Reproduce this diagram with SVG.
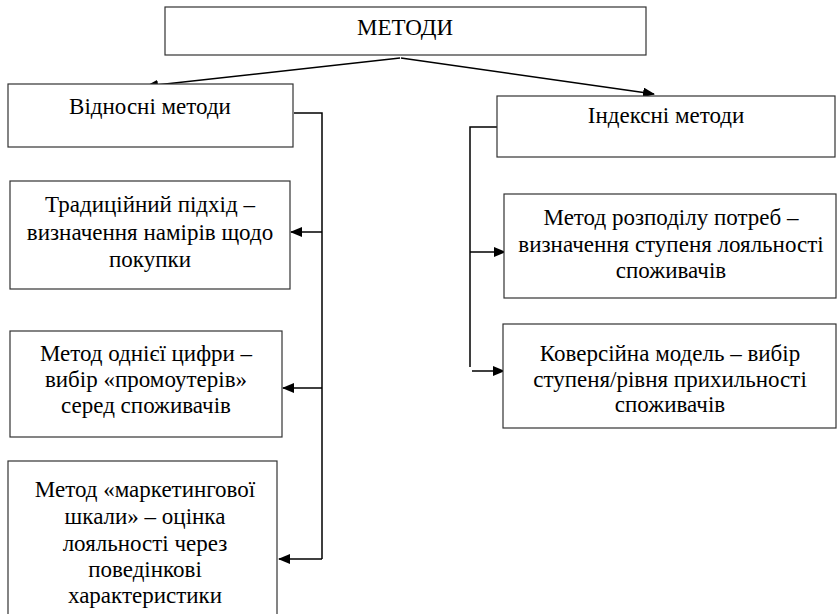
<svg xmlns="http://www.w3.org/2000/svg" width="837" height="614" viewBox="0 0 837 614">
<defs>
<style>
.box{fill:#fff;stroke:#333;stroke-width:1.2}
.t{font-family:'Liberation Serif',serif;font-size:23px;text-anchor:middle;fill:#000}
</style>
<marker id="ah" markerWidth="12" markerHeight="10" refX="11" refY="5" orient="auto" markerUnits="userSpaceOnUse">
<path d="M0,0 L12,5 L0,10 Z" fill="#000"/>
</marker>
</defs>
<rect width="837" height="614" fill="#fff"/>
<g id="connectors" fill="none" stroke="#000" stroke-width="1.5">
<line x1="400" y1="58" x2="147" y2="86" marker-end="url(#ah)"/>
<line x1="401" y1="58" x2="654" y2="94" marker-end="url(#ah)"/>
<polyline points="294,113 322,113 322,559"/>
<line x1="322" y1="232" x2="291" y2="232" marker-end="url(#ah)"/>
<line x1="322" y1="388" x2="283" y2="388" marker-end="url(#ah)"/>
<line x1="322" y1="559" x2="279" y2="559" marker-end="url(#ah)"/>
<polyline points="497,127 470,127 470,367"/>
<line x1="470" y1="252" x2="505" y2="252" marker-end="url(#ah)"/>
<line x1="472" y1="371" x2="504" y2="371" marker-end="url(#ah)"/>
</g>
<g id="n-methods">
<rect class="box" x="165" y="7" width="481" height="48"/>
<text class="t" x="405" y="35">МЕТОДИ</text>
</g>
<g id="n-relative">
<rect class="box" x="8" y="84" width="285" height="63"/>
<text class="t" x="150" y="114">Відносні методи</text>
</g>
<g id="n-index">
<rect class="box" x="497" y="96" width="338" height="61"/>
<text class="t" x="666" y="123">Індексні методи</text>
</g>
<g id="n-traditional">
<rect class="box" x="10" y="181" width="280" height="108"/>
<text class="t" x="150" y="212">Традиційний підхід –</text>
<text class="t" x="150" y="240">визначення намірів щодо</text>
<text class="t" x="150" y="267">покупки</text>
</g>
<g id="n-onedigit">
<rect class="box" x="10" y="331" width="272" height="106"/>
<text class="t" x="146" y="361">Метод однієї цифри –</text>
<text class="t" x="146" y="387">вибір «промоутерів»</text>
<text class="t" x="146" y="413">серед споживачів</text>
</g>
<g id="n-marketing">
<rect class="box" x="8" y="461" width="269" height="160"/>
<text class="t" x="145" y="497">Метод «маркетингової</text>
<text class="t" x="145" y="524">шкали» – оцінка</text>
<text class="t" x="145" y="551">лояльності через</text>
<text class="t" x="145" y="577">поведінкові</text>
<text class="t" x="145" y="603">характеристики</text>
</g>
<g id="n-needs">
<rect class="box" x="504" y="194" width="332" height="104"/>
<text class="t" x="671" y="225">Метод розподілу потреб –</text>
<text class="t" x="671" y="252">визначення ступеня лояльності</text>
<text class="t" x="671" y="278">споживачів</text>
</g>
<g id="n-conversion">
<rect class="box" x="503" y="324" width="333" height="104"/>
<text class="t" x="670" y="361">Коверсійна модель – вибір</text>
<text class="t" x="670" y="387">ступеня/рівня прихильності</text>
<text class="t" x="670" y="412">споживачів</text>
</g>
</svg>
